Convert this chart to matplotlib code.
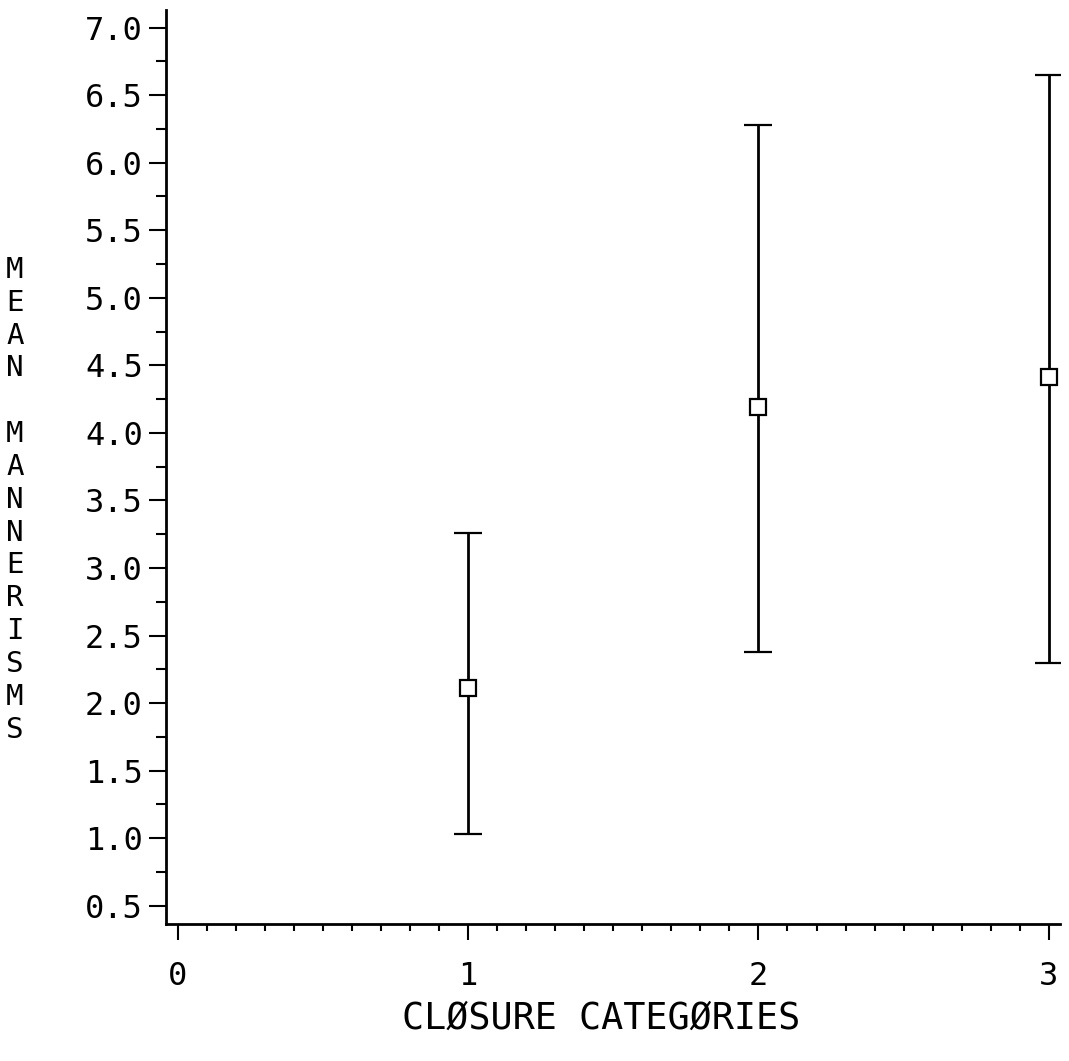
import numpy as np
import matplotlib
matplotlib.use('Agg')
import matplotlib.pyplot as plt
from matplotlib.ticker import MultipleLocator, FormatStrFormatter

# data
categories = [1, 2, 3]
means = [2.11, 4.19, 4.41]
upper = [3.26, 6.28, 6.65]
lower = [1.03, 2.38, 2.30]

yticks = [0.5, 1.0, 1.5, 2.0, 2.5, 3.0, 3.5, 4.0, 4.5, 5.0, 5.5, 6.0, 6.5, 7.0]
xticks = [0, 1, 2, 3]

plt.rcParams['font.family'] = ['DejaVu Sans Mono']

fig = plt.figure(figsize=(10.69, 10.61), dpi=100)
ax = fig.add_axes([0.155, 0.129, 0.837, 0.862])

means = np.array(means)
err = np.array([means - np.array(lower), np.array(upper) - means])

ax.errorbar(categories, means, yerr=err, fmt='s', color='black',
            ecolor='black', elinewidth=2.0, capsize=10, capthick=2.6,
            markersize=12, markerfacecolor='white', markeredgecolor='black',
            markeredgewidth=1.6)

ax.set_xlim(-0.041, 3.04)
ax.set_ylim(0.364, 7.133)

ax.spines['top'].set_visible(False)
ax.spines['right'].set_visible(False)
ax.spines['left'].set_linewidth(2.0)
ax.spines['bottom'].set_linewidth(2.0)

ax.set_xticks(xticks)
ax.set_yticks(yticks)
ax.xaxis.set_minor_locator(MultipleLocator(0.1))
ax.yaxis.set_minor_locator(MultipleLocator(0.25))
ax.yaxis.set_major_formatter(FormatStrFormatter('%.1f'))

ax.tick_params(axis='y', which='major', direction='out', length=12.5, width=1.5,
               pad=4, labelsize=23)
ax.tick_params(axis='y', which='minor', direction='out', length=7, width=1.5)
ax.tick_params(axis='x', which='major', direction='out', length=11.5, width=1.5,
               pad=15, labelsize=23)
ax.tick_params(axis='x', which='minor', direction='out', length=5, width=1.5)

fig.text(0.562, 0.040, 'CLØSURE CATEGØRIES', ha='center', va='center', fontsize=26.5)

ylab = '\n'.join(list('MEAN MANNERISMS'))
fig.text(0.014, 0.529, ylab, ha='center', va='center', fontsize=21, linespacing=1.22)

fig.savefig('out.png', dpi=100)
